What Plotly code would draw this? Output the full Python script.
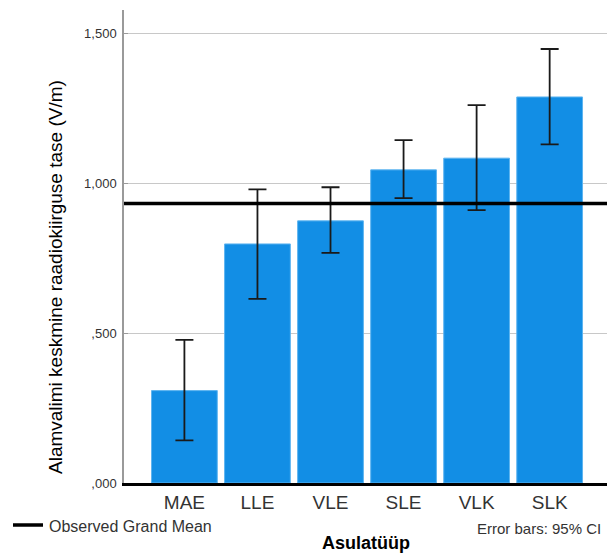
import plotly.graph_objects as go

categories = ["MAE", "LLE", "VLE", "SLE", "VLK", "SLK"]
means = [0.308, 0.797, 0.874, 1.044, 1.083, 1.287]
ci_low = [0.142, 0.614, 0.767, 0.950, 0.910, 1.129]
ci_high = [0.477, 0.979, 0.986, 1.143, 1.260, 1.447]
grand_mean = 0.932
y_ticks = [0.0, 0.5, 1.0, 1.5]
y_tick_labels = [",000", ",500", "1,000", "1,500"]

FONT = "Liberation Sans, Arial, sans-serif"

err_plus = [h - m for h, m in zip(ci_high, means)]
err_minus = [m - l for m, l in zip(means, ci_low)]

fig = go.Figure()
fig.add_trace(go.Bar(
    x=categories, y=means,
    marker=dict(color="#128EE5", line=dict(color="#5DB4F0", width=1)),
    error_y=dict(type="data", array=err_plus, arrayminus=err_minus,
                 color="#1a1a1a", thickness=1.8, width=9),
    showlegend=False,
))

fig.add_shape(type="line", xref="paper", x0=0, x1=1, yref="y",
              y0=grand_mean, y1=grand_mean, line=dict(color="black", width=3.5))

fig.update_layout(
    width=607, height=554,
    margin=dict(l=124, r=0, t=10, b=71),
    paper_bgcolor="white", plot_bgcolor="white",
    bargap=0.1,
    xaxis=dict(range=[-0.827, 5.785], showgrid=False, showline=True,
               linecolor="black", linewidth=3, ticks="",
               tickfont=dict(family=FONT, size=19, color="#333333")),
    yaxis=dict(range=[0, 1.577], tickvals=y_ticks, ticktext=y_tick_labels,
               showgrid=True, gridcolor="#c8c8c8", gridwidth=1,
               showline=True, linecolor="#9a9a9a", linewidth=1.5,
               ticks="inside", ticklen=4, tickcolor="#9a9a9a",
               zeroline=False, ticklabelstandoff=3,
               tickfont=dict(family=FONT, size=13, color="#333333")),
    annotations=[
        dict(text="Alamvalimi keskmine raadiokiirguse tase (V/m)", textangle=-90,
             xref="paper", yref="paper", x=(55 - 124) / 483, y=(483 - 277) / 473,
             xanchor="center", yanchor="middle", showarrow=False,
             font=dict(family=FONT, size=19, color="black")),
        dict(text="Observed Grand Mean", xref="paper", yref="paper",
             x=(47 - 124) / 483, y=-(526 - 483) / 473, xanchor="left", yanchor="middle",
             showarrow=False, font=dict(family=FONT, size=16, color="#333333")),
        dict(text="Error bars: 95% CI", xref="paper", yref="paper",
             x=(603 - 124) / 483, y=-(528 - 483) / 473, xanchor="right", yanchor="middle",
             showarrow=False, font=dict(family=FONT, size=15, color="#333333")),
        dict(text="<b>Asulatüüp</b>", xref="paper", yref="paper",
             x=0.5, y=-(543 - 483) / 473, xanchor="center", yanchor="middle",
             showarrow=False, font=dict(family=FONT, size=18, color="black")),
    ],
)
fig.add_shape(type="line", xref="paper", yref="paper",
              x0=(13 - 124) / 483, x1=(43 - 124) / 483,
              y0=-(525 - 483) / 473, y1=-(525 - 483) / 473,
              line=dict(color="black", width=3.5))

fig.write_html("out.html", config={"displayModeBar": False},
               post_script="document.body.style.margin='0';document.body.style.overflow='hidden';")
